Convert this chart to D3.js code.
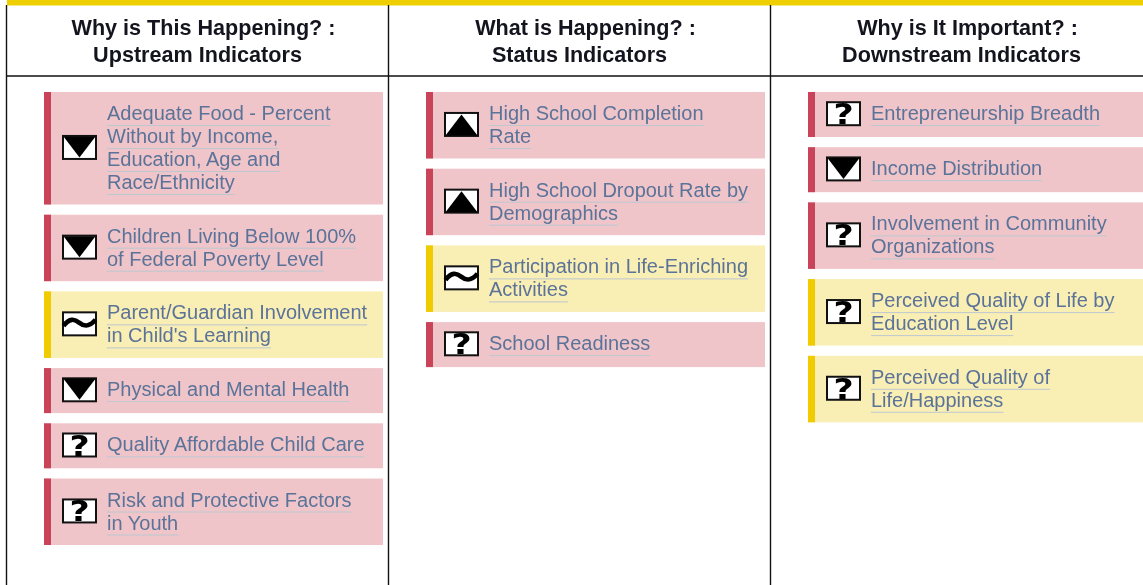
<!DOCTYPE html>
<html>
<head>
<meta charset="utf-8">
<script src="https://cdn.jsdelivr.net/npm/d3@7"></script>
<style>
  html, body { margin: 0; padding: 0; background: #fff; overflow: hidden; }
  svg { display: block; font-family: "Liberation Sans", Arial, sans-serif; filter: blur(0.45px); }
</style>
</head>
<body>
<div id="chart"></div>
<script>
const headings = [
    ['Why is This Happening? :', 'Upstream Indicators'],
    ['What is Happening? :', 'Status Indicators'],
    ['Why is It Important? :', 'Downstream Indicators']
];

// one list per column, wrapped the way the page wraps them
const upstreamLabels = [
    ['Adequate Food - Percent', 'Without by Income,', 'Education, Age and', 'Race/Ethnicity'],
    ['Children Living Below 100%', 'of Federal Poverty Level'],
    ['Parent/Guardian Involvement', 'in Child\'s Learning'],
    ['Physical and Mental Health'],
    ['Quality Affordable Child Care'],
    ['Risk and Protective Factors', 'in Youth']
];
const upstreamStatus = ['red', 'red', 'yellow', 'red', 'red', 'red'];
const upstreamTrend = ['down', 'down', 'flat', 'down', 'unknown', 'unknown'];

const statusLabels = [
    ['High School Completion', 'Rate'],
    ['High School Dropout Rate by', 'Demographics'],
    ['Participation in Life-Enriching', 'Activities'],
    ['School Readiness']
];
const statusStatus = ['red', 'red', 'yellow', 'red'];
const statusTrend = ['up', 'up', 'flat', 'unknown'];

const downstreamLabels = [
    ['Entrepreneurship Breadth'],
    ['Income Distribution'],
    ['Involvement in Community', 'Organizations'],
    ['Perceived Quality of Life by', 'Education Level'],
    ['Perceived Quality of', 'Life/Happiness']
];
const downstreamStatus = ['red', 'red', 'red', 'yellow', 'yellow'];
const downstreamTrend = ['unknown', 'down', 'unknown', 'unknown', 'unknown'];

const columns = [
    { labels: upstreamLabels, status: upstreamStatus, trend: upstreamTrend },
    { labels: statusLabels, status: statusStatus, trend: statusTrend },
    { labels: downstreamLabels, status: downstreamStatus, trend: downstreamTrend }
];

const width = 1143, height = 585;
const headerBottom = 76, cardsTop = 92, cardGap = 10.2, lineHeight = 23;

const fills = { red: '#efc5ca', yellow: '#f9eeb4' };
const edges = { red: '#c94459', yellow: '#efcb00' };

const svg = d3.select('#chart').append('svg')
    .attr('width', width)
    .attr('height', height);

// column boundaries
const x = d3.scalePoint().domain([0, 1, 2, 3]).range([6.5, 1152.5]);

svg.append('rect')
    .attr('x', 7).attr('y', 0)
    .attr('width', width - 7).attr('height', 5.5)
    .style('fill', '#efcf00');

svg.selectAll('line.col')
    .data([0, 1, 2])
    .enter()
    .append('line')
    .attr('class', 'col')
    .attr('x1', d => x(d)).attr('x2', d => x(d))
    .attr('y1', 5).attr('y2', height)
    .style('stroke', '#111')
    .style('stroke-width', 1.4);

svg.append('line')
    .attr('x1', 6).attr('x2', width)
    .attr('y1', headerBottom).attr('y2', headerBottom)
    .style('stroke', '#111')
    .style('stroke-width', 1.4);

// Headings
const head = svg.selectAll('g.head')
    .data(headings)
    .enter()
    .append('g')
    .attr('class', 'head')
    .attr('transform', (d, i) => `translate(${x(i) + 191}, 0)`);

head.selectAll('text')
    .data(d => d)
    .enter()
    .append('text')
    .attr('x', (d, i) => i === 0 ? 6 : 0)
    .attr('y', (d, i) => 35 + i * 27)
    .attr('text-anchor', 'middle')
    .style('font-weight', 'bold')
    .style('font-size', '21.6px')
    .style('fill', '#14141e')
    .text(d => d);

function cardHeight(lines) {
    return lines.length === 1 ? 45 : lines.length * lineHeight + 20.5;
}

function drawIcon(g, kind) {
    g.append('rect')
        .attr('x', -16.5).attr('y', -11.5)
        .attr('width', 33).attr('height', 23)
        .style('fill', '#fff')
        .style('stroke', '#111')
        .style('stroke-width', 2);
    if (kind === 'down') {
        g.append('path').attr('d', 'M-16,-11L16,-11L0,10Z').style('fill', '#000');
    } else if (kind === 'up') {
        g.append('path').attr('d', 'M-16,11L16,11L0,-10Z').style('fill', '#000');
    } else if (kind === 'flat') {
        g.append('path')
            .attr('d', 'M-16,2C-10,-6 -5,-5 0,-1C5,3 10,3 16,-4')
            .style('fill', 'none').style('stroke', '#000').style('stroke-width', 4.6);
    } else {
        g.append('text')
            .attr('y', 10.5)
            .attr('transform', 'scale(1.2,1)')
            .attr('text-anchor', 'middle')
            .style('font-family', '"DejaVu Sans", sans-serif')
            .style('font-weight', 'bold')
            .style('font-size', '29px')
            .style('fill', '#000')
            .text('?');
    }
}

columns.forEach((col, c) => {
    let top = cardsTop;
    const cards = col.labels.map((lines, i) => {
        const card = { lines, status: col.status[i], trend: col.trend[i], top, h: cardHeight(lines) };
        top += card.h + cardGap;
        return card;
    });

    const nodes = svg.selectAll(null)
        .data(cards)
        .enter()
        .append('g')
        .attr('transform', d => `translate(${x(c) + 37.5}, ${d.top})`);

    nodes.append('rect')
        .attr('width', 339)
        .attr('height', d => d.h)
        .style('fill', d => fills[d.status]);

    nodes.append('rect')
        .attr('width', 7)
        .attr('height', d => d.h)
        .style('fill', d => edges[d.status]);

    nodes.append('g')
        .attr('transform', d => `translate(35.5, ${d.h / 2 - 0.8})`)
        .each(function (d) { drawIcon(d3.select(this), d.trend); });

    const rows = nodes.selectAll('g.row')
        .data(d => d.lines.map((t, i) => ({ t, i })))
        .enter()
        .append('g')
        .attr('class', 'row')
        .attr('transform', d => `translate(63, ${28 + d.i * lineHeight})`);

    rows.append('text')
        .style('font-size', '20px')
        .style('fill', '#5b7399')
        .text(d => d.t);

    // light underline sits under each wrapped line
    rows.append('line')
        .attr('x1', 0)
        .attr('x2', function () {
            return this.parentNode.querySelector('text').getComputedTextLength();
        })
        .attr('y1', 5.5).attr('y2', 5.5)
        .style('stroke', '#bcc8d0')
        .style('stroke-width', 1);
});
</script>
</body>
</html>
